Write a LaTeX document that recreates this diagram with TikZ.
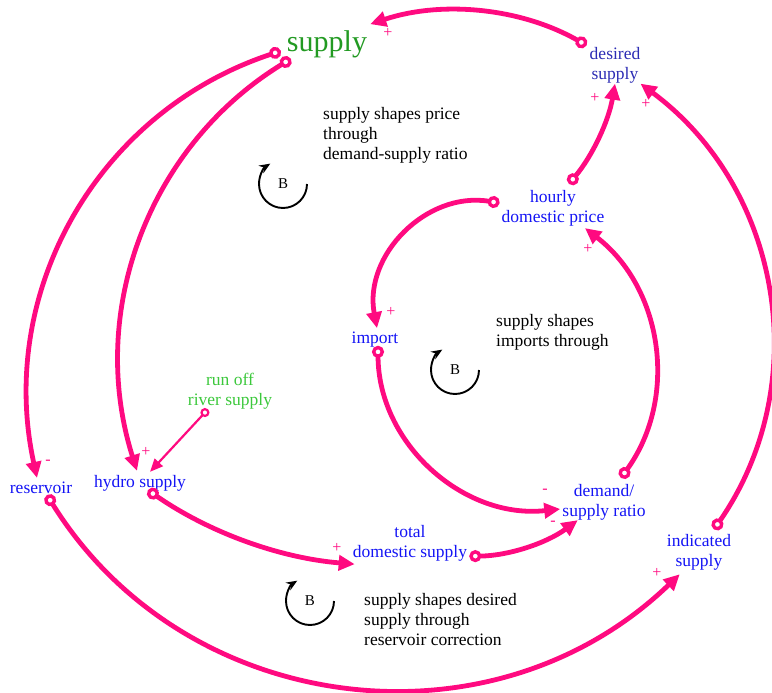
\documentclass[tikz,border=0pt]{standalone}
\usepackage{fontspec}
\setmainfont{Liberation Serif}
\usetikzlibrary{arrows.meta}
\definecolor{clink}{HTML}{FF0A80}
\definecolor{cvar}{HTML}{1414F5}
\definecolor{cdes}{HTML}{2C2CB4}
\definecolor{cstock}{HTML}{229A22}
\definecolor{cflow}{HTML}{3CC83C}
\begin{document}
\begin{tikzpicture}[x=1pt,y=-1pt]
  \tikzset{var/.style={inner sep=0,align=center,text=cvar,font=\fontsize{17.5}{20}\selectfont},
    note/.style={inner sep=0,align=left,anchor=west,font=\fontsize{17.5}{20}\selectfont},
    pol/.style={inner sep=0,text=clink,font=\fontsize{16}{16}\selectfont},
    link/.style={draw=clink,line width=4.8pt,arrows={Circle[open,length=12pt,width=12pt,line width=3.4pt]-Triangle[length=16pt,width=15pt]}},
    thinlink/.style={draw=clink,line width=2.2pt,arrows={Circle[open,length=9pt,width=9pt,line width=2.2pt]-Triangle[length=13pt,width=11pt]}},
    loopmark/.style={draw,line width=1.9pt,-{Stealth[length=11pt,width=9pt]}}}
  \useasboundingbox (0,0) rectangle (772,693);
  \node[var,text=cstock,font=\fontsize{30}{30}\selectfont] (sup) at (327,44) {supply};
  \node[var,text=cdes] (des) at (615,65.5) {desired\\supply};
  \node[var] (hdp) at (553,208) {hourly\\domestic price};
  \node[var] (imp) at (375,340) {import};
  \node[var] (res) at (41,488) {reservoir};
  \node[var] (hyd) at (140,483) {hydro supply};
  \node[var,text=cflow] (run) at (230,391) {run off\\river supply};
  \node[var] (tot) at (410,543) {total\\domestic supply};
  \node[var] (rat) at (604,502) {demand/\\supply ratio};
  \node[var] (ind) at (699,552.5) {indicated\\supply};
  \node[note] (t1) at (323,135) {supply shapes price\\through\\demand-supply ratio};
  \node[note] (t2) at (496,332) {supply shapes\\imports through};
  \node[note] (t3) at (364,619.5) {supply shapes desired\\supply through\\reservoir correction};
  \draw[link] ([shift={(-3,-2)}]des.north west) to[bend right=24,looseness=.89] ([shift={(3,-6)}]sup.north east);
  \draw[link] ([shift={(-6,7)}]sup.west) to[bend right=42] ([shift={(-4,-4)}]res.north);
  \draw[link] ([shift={(4,1)}]sup.south west) to[bend right=38,looseness=.97] ([shift={(-3,-4)}]hyd.north);
  \draw[thinlink] ([shift={(-22,0)}]run.south) -- ([shift={(10,-3)}]hyd.north);
  \draw[link] ([shift={(8,-1)}]hyd.south) to[bend right=15,looseness=.87] ([shift={(2,3)}]tot.south west);
  \draw[link] ([shift={(2,-5)}]tot.south east) to[bend right=18,looseness=.87] ([shift={(15.5,0)}]rat.south west);
  \draw[link] ([shift={(3,-2)}]imp.south) to[bend right=48,looseness=1.02] ([shift={(-2,7)}]rat.west);
  \draw[link] ([shift={(17,-6)}]rat.north) to[bend right=44] ([shift={(32,2)}]hdp.south);
  \draw[link] ([shift={(-2,-5)}]hdp.west) to[bend right=55,looseness=1.08] ([shift={(2,-4)}]imp.north);
  \draw[link] ([shift={(16,-6)}]hdp.north) to[bend right=15,looseness=.87] (des.south);
  \draw[link] ([shift={(15,-5)}]ind.north) to[bend right=44] (des.south east);
  \draw[link] ([shift={(6,1)}]res.south) to[bend right=51,looseness=1.05] ([shift={(13,3.6)}]ind.south west);
  \foreach \x/\y/\s [count=\i] in {388/33/+,48/462/-,146/452/+,337/548/+,545/491/-,553/523/-,
      588/249/+,391/312/+,595/98/+,646/104/+,657/573/+}
    \node[pol] (s\i) at (\x,\y) {\s};
  \foreach \n/\x/\y in {l1/283/184,l2/455/370,l3/310/601}{
    \node[inner sep=0,font=\fontsize{15}{15}\selectfont] (\n) at (\x,\y) {B};
    \draw[loopmark] ([shift={(24,0)}]\n.center) arc[start angle=0,end angle=238,radius=24];
  }
\end{tikzpicture}
\end{document}
